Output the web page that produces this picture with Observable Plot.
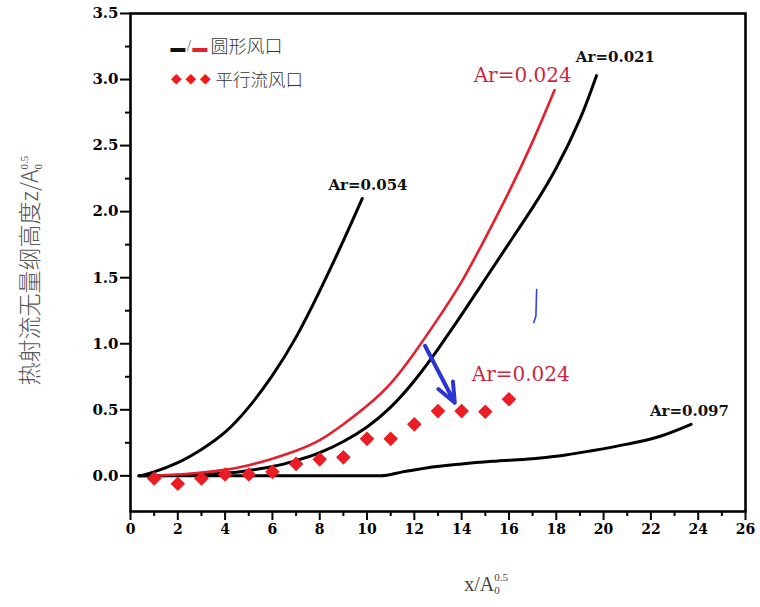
<!DOCTYPE html>
<html><head><meta charset="utf-8">
<script src="https://cdn.jsdelivr.net/npm/d3@7"></script>
<script src="https://cdn.jsdelivr.net/npm/@observablehq/plot@0.6"></script>
<style>
body{margin:0;background:#fff;}
</style>
</head><body><div id="chart"></div>
<script>
// Circular outlet curves (x/A0^0.5, z/A0^0.5)
const ar054 = [[0.4,0],[1,0.03],[2,0.10],[3,0.20],[4,0.33],[5,0.52],[6,0.76],[7,1.05],[8,1.40],[9,1.78],[9.8,2.10]];
const ar024 = [[0.9,0],[2,0.01],[3,0.025],[4,0.045],[5,0.08],[6,0.13],[7,0.19],[8,0.27],[9,0.39],[10,0.53],[11,0.70],[12,0.93],[13,1.19],[14,1.47],[15,1.80],[16,2.15],[17,2.53],[17.93,2.92]];
const ar021 = [[0.35,0],[2,0.005],[4,0.02],[5,0.04],[6,0.07],[7,0.115],[8,0.175],[9,0.26],[10,0.37],[11,0.52],[12,0.72],[13,0.96],[14,1.22],[15,1.49],[16,1.76],[17,2.03],[18,2.33],[19,2.70],[19.7,3.03]];
const ar097 = [[0.35,0],[10.6,0],[11.5,0.03],[12.5,0.06],[14,0.09],[15.3,0.11],[17,0.13],[18.1,0.15],[19.5,0.19],[21,0.24],[22.4,0.30],[23.7,0.39]];
// Parallel-flow outlet points
const pfX = [1,2,3,4,5,6,7,8,9,10,11,12,13,14,15,16];
const pfY = [-0.02,-0.06,-0.02,0.01,0.01,0.03,0.09,0.125,0.14,0.28,0.28,0.39,0.49,0.49,0.485,0.58];
// Curve labels
const labelText = ["Ar=0.054","Ar=0.024","Ar=0.021","Ar=0.024","Ar=0.097"];
const labelX = [10.04,16.58,20.5,16.5,23.63];
const labelY = [2.20,3.03,3.17,0.77,0.49];
const labelRed = [false,true,false,true,false];
// Blue annotation arrow and mark
const arrowFrom = [12.45,0.985];
const arrowTo = [13.71,0.553];
const blueMark = [[17.17,1.41],[17.14,1.21],[17.05,1.16]];
// Axis ticks
const xMajor = d3.range(0,27,2);
const xMinor = d3.range(1,26,2);
const yMajor = [0,0.5,1,1.5,2,2.5,3,3.5];
const yMinor = [0.25,0.75,1.25,1.75,2.25,2.75,3.25];
const legend1 = "圆形风口";
const legend2 = "平行流风口";
const yTitle = "热射流无量纲高度z/A";
const xTitle = "x/A";

const pts = pfX.map((x,i)=>({x, y: pfY[i]}));
const labels = labelText.map((t,i)=>({t, x: labelX[i], y: labelY[i], red: labelRed[i]}));
const RED = "#e3202e";
const TXTRED = "#c9283e";
const serif = "DejaVu Serif";
const cjk = "Noto Sans CJK SC";

const legendMarks = [
  Plot.text([0], {frameAnchor:"top-left", dx:40, dy:27, text:()=>"━", fill:"#111", textAnchor:"start", fontSize:24, fontFamily:"DejaVu Sans"}),
  Plot.text([0], {frameAnchor:"top-left", dx:56, dy:27, text:()=>"/", fill:"#999", textAnchor:"start", fontSize:14, fontFamily:"DejaVu Sans"}),
  Plot.text([0], {frameAnchor:"top-left", dx:62, dy:27, text:()=>"━", fill:RED, textAnchor:"start", fontSize:24, fontFamily:"DejaVu Sans"}),
  Plot.text([0], {frameAnchor:"top-left", dx:80, dy:27, text:()=>legend1, fill:"#333", textAnchor:"start", fontSize:18, fontWeight:300, fontFamily:cjk}),
  ...[0,1,2].map(i => Plot.text([0], {frameAnchor:"top-left", dx:46+i*14.5, dy:60, text:()=>"◆", fill:"#ee1a1a", textAnchor:"middle", fontSize:14, fontFamily:"DejaVu Sans"})),
  Plot.text([0], {frameAnchor:"top-left", dx:85, dy:60, text:()=>legend2, fill:"#333", textAnchor:"start", fontSize:17.5, fontWeight:300, fontFamily:cjk})
];

const chart = Plot.plot({
  width: 760, height: 607,
  marginLeft: 130, marginRight: 15, marginTop: 13, marginBottom: 96,
  style: {background:"white", color:"black", overflow:"visible"},
  x: {domain:[0,26], label:null},
  y: {domain:[-0.27,3.5], label:null},
  marks: [
    Plot.axisX({ticks:xMajor, tickSize:9, tickPadding:4, fontSize:14, fontWeight:"bold", fontFamily:serif, strokeWidth:2, label:null}),
    Plot.axisX({ticks:xMinor, tickSize:5, tickFormat:()=>"", strokeWidth:2, label:null}),
    Plot.axisY({ticks:yMajor, tickSize:10, tickPadding:2, tickFormat:d3.format(".1f"), fontSize:15, fontWeight:"bold", fontFamily:serif, strokeWidth:2, label:null}),
    Plot.axisY({ticks:yMinor, tickSize:5, tickFormat:()=>"", strokeWidth:2, label:null}),
    Plot.line(ar054, {x:d=>d[0], y:d=>d[1], stroke:"#000", strokeWidth:3, curve:"natural"}),
    Plot.line(ar021, {x:d=>d[0], y:d=>d[1], stroke:"#000", strokeWidth:3, curve:"natural"}),
    Plot.line(ar097, {x:d=>d[0], y:d=>d[1], stroke:"#000", strokeWidth:3, curve:"monotone-x"}),
    Plot.line(ar024, {x:d=>d[0], y:d=>d[1], stroke:RED, strokeWidth:2.6, curve:"natural"}),
    Plot.dot(pts, {x:"x", y:"y", symbol:"diamond2", r:6.6, fill:"#ec1c24"}),
    Plot.text(labels.filter(d=>!d.red), {x:"x", y:"y", text:"t", fill:"#111", fontSize:15, fontWeight:"bold", fontFamily:serif}),
    Plot.text(labels.filter(d=>d.red), {x:"x", y:"y", text:"t", fill:TXTRED, fontSize:20, fontFamily:serif}),
    Plot.arrow([{a:arrowFrom, b:arrowTo}], {x1:d=>d.a[0], y1:d=>d.a[1], x2:d=>d.b[0], y2:d=>d.b[1], stroke:"#2b35d4", strokeWidth:4, headLength:15, headAngle:45}),
    Plot.line(blueMark, {x:d=>d[0], y:d=>d[1], stroke:"#3343e0", strokeWidth:1.6}),
    ...legendMarks,
    Plot.text([0], {frameAnchor:"left", textAnchor:"middle", dx:-100, dy:8, rotate:-90, text:()=>yTitle, fill:"#555", fontSize:23, fontWeight:300, fontFamily:cjk}),
    Plot.text([0], {frameAnchor:"bottom", textAnchor:"middle", dx:48, dy:79, text:()=>xTitle, fill:"#444", fontSize:20, fontFamily:"Liberation Serif"}),
    Plot.frame({stroke:"#000", strokeWidth:2.6})
  ]
});
document.getElementById("chart").appendChild(chart);

// add stacked subscript "0" and superscript "0.5" after "A" in axis titles
chart.querySelectorAll("text").forEach(t => {
  const s = t.textContent;
  if (s === yTitle || s === xTitle) {
    const small = 11;
    const ns = "http://www.w3.org/2000/svg";
    const sub = document.createElementNS(ns, "tspan");
    sub.setAttribute("font-size", small); sub.setAttribute("dy", "0.35em");
    sub.setAttribute("font-family", "Liberation Serif");
    sub.textContent = "0";
    const sup = document.createElementNS(ns, "tspan");
    sup.setAttribute("font-size", small); sup.setAttribute("dx", -small*0.5);
    sup.setAttribute("dy", "-1.25em");
    sup.setAttribute("font-family", "Liberation Serif");
    sup.textContent = "0.5";
    t.appendChild(sub); t.appendChild(sup);
  }
});
</script>
</body></html>
